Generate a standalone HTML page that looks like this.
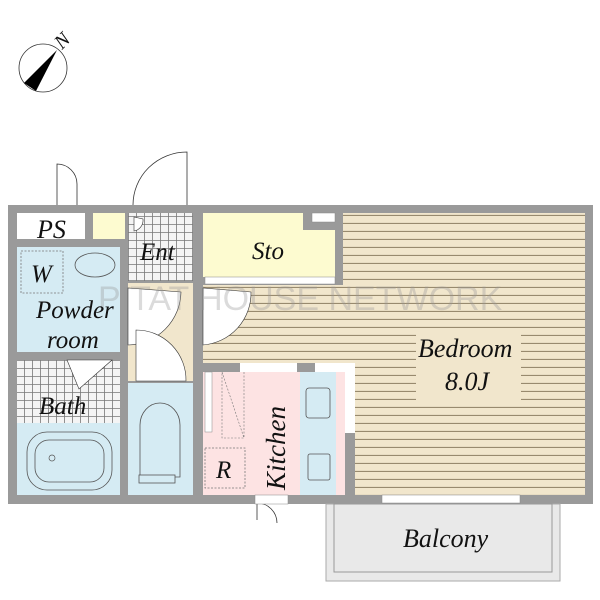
<!DOCTYPE html>
<html><head><meta charset="utf-8"><style>body{margin:0;background:#fff}svg{display:block}text{font-family:"Liberation Serif",serif;font-style:italic;fill:#111}</style></head><body>
<svg width="600" height="600" viewBox="0 0 600 600" xmlns="http://www.w3.org/2000/svg">
<defs>
<pattern id="wood" width="10" height="8" patternUnits="userSpaceOnUse"><rect width="10" height="8" fill="#f1e6cc"/><line x1="0" y1="7.4" x2="10" y2="7.4" stroke="#8f7f63" stroke-width="1"/></pattern>
<pattern id="tile" width="8" height="8" patternUnits="userSpaceOnUse"><rect width="8" height="8" fill="#f4f4f4"/><path d="M0 0.5H8M0.5 0V8" stroke="#777" stroke-width="0.8"/></pattern>
</defs>
<!-- compass -->
<circle cx="43" cy="68" r="24" fill="none" stroke="#333" stroke-width="0.8"/>
<polygon points="57,50 24,83 36,91" fill="#000"/>
<text x="0" y="0" font-size="20" transform="translate(62,50) rotate(-45)">N</text>
<!-- doors outside -->
<path d="M187 205V152A54 53 0 0 0 133 205" fill="none" stroke="#333" stroke-width="0.8"/>
<path d="M57 205V164A20 20 0 0 1 77 184V205" fill="none" stroke="#333" stroke-width="0.8"/>
<path d="M257 503V520M257 503A20 20 0 0 1 277 523" fill="none" stroke="#333" stroke-width="0.8"/>
<!-- outer walls -->
<rect x="8" y="205" width="585" height="299" fill="#9a9a9a"/>
<!-- balcony -->
<rect x="326" y="504" width="234" height="77" fill="#e9e9e9" stroke="#aaa" stroke-width="1"/>
<rect x="334" y="504" width="218" height="68" fill="none" stroke="#999" stroke-width="1"/>
<!-- rooms -->
<rect x="17" y="213" width="68" height="26" fill="#fff"/>
<rect x="93" y="213" width="32" height="26" fill="#fdfbd0"/>
<rect x="128" y="213" width="65" height="68" fill="url(#tile)"/>
<path d="M203 213H303V230H335V277H203Z" fill="#fdfbd0"/>
<rect x="312" y="213" width="23" height="9" fill="#fff" stroke="#888" stroke-width="0.5"/>
<path d="M343 213H585V495H355V372H345V363H203V285H343Z" fill="url(#wood)"/>
<rect x="17" y="247" width="103" height="105" fill="#d5ebf3"/>
<rect x="17" y="360" width="103" height="63" fill="url(#tile)"/>
<rect x="17" y="423" width="103" height="72" fill="#d5ebf3"/>
<rect x="128" y="283" width="65" height="98" fill="#f1e6cc"/>
<rect x="128" y="383" width="65" height="112" fill="#d5ebf3"/>
<rect x="203" y="372" width="97" height="123" fill="#fde3e3"/>
<rect x="300" y="372" width="36" height="123" fill="#d5ebf3"/>
<rect x="336" y="372" width="9" height="123" fill="#fde3e3"/>
<rect x="345" y="363" width="10" height="70" fill="#fff"/>
<rect x="205" y="372" width="7" height="60" fill="#fff" stroke="#888" stroke-width="0.5"/>
<rect x="240" y="363" width="57" height="9" fill="#fff"/>
<rect x="315" y="363" width="30" height="9" fill="#fff"/>
<!-- door swings inside -->
<path d="M128 288V345A54 54 0 0 0 181 292Z" fill="#fff" stroke="#333" stroke-width="0.6"/>
<path d="M136 381V330A50 50 0 0 1 186 381Z" fill="#fff" stroke="#333" stroke-width="0.6"/>
<path d="M203 288V345A52 52 0 0 0 251 292Z" fill="#fff" stroke="#333" stroke-width="0.6"/>
<path d="M67 360L79 389L112 360Z" fill="#fff" stroke="#333" stroke-width="0.6"/>
<path d="M134 217V231A11 11 0 0 0 143 219Z" fill="#fff" stroke="#333" stroke-width="0.6"/>
<!-- windows -->
<rect x="205" y="277" width="130" height="7" fill="#fff" stroke="#888" stroke-width="0.5"/>
<rect x="382" y="495" width="138" height="8" fill="#fff" stroke="#888" stroke-width="0.5"/>
<rect x="255" y="495" width="33" height="9" fill="#fff" stroke="#888" stroke-width="0.5"/>
<!-- fixtures -->
<rect x="21" y="251" width="42" height="42" fill="none" stroke="#777" stroke-dasharray="2 1.5" stroke-width="0.8"/>
<ellipse cx="95" cy="265" rx="20" ry="12" fill="none" stroke="#555" stroke-width="0.8"/>
<rect x="27" y="432" width="85" height="58" rx="20" fill="none" stroke="#555" stroke-width="0.8"/>
<rect x="35" y="440" width="69" height="42" rx="14" fill="none" stroke="#555" stroke-width="0.8"/>
<circle cx="52" cy="458" r="3" fill="none" stroke="#555" stroke-width="0.7"/>
<path d="M140 477V425A20 22 0 0 1 180 425V477Z" fill="none" stroke="#555" stroke-width="0.8"/>
<rect x="139" y="475" width="36" height="8" fill="#d5ebf3" stroke="#555" stroke-width="0.8"/>
<rect x="306" y="388" width="24" height="30" rx="3" fill="none" stroke="#555" stroke-width="0.8"/>
<rect x="308" y="454" width="22" height="26" rx="2" fill="none" stroke="#555" stroke-width="0.8"/>
<rect x="205" y="448" width="40" height="40" fill="none" stroke="#777" stroke-dasharray="2 1.5" stroke-width="0.8"/>
<path d="M222 372L244 438M244 372V438H222V372" fill="none" stroke="#777" stroke-dasharray="2 1.5" stroke-width="0.6"/>
<!-- watermark -->
<text x="98" y="310" font-size="34" style="font-family:'Liberation Sans',sans-serif;font-style:normal;fill:#999;opacity:0.35">PITAT HOUSE NETWORK</text>
<!-- labels -->
<rect x="416" y="332" width="105" height="70" fill="#f1e6cc"/>
<text x="37" y="238" font-size="26">PS</text>
<text x="140" y="260" font-size="25">Ent</text>
<text x="252" y="259" font-size="25">Sto</text>
<text x="31" y="282" font-size="25">W</text>
<text x="36" y="318" font-size="25">Powder</text>
<text x="47" y="348" font-size="25">room</text>
<text x="39" y="414" font-size="25">Bath</text>
<text x="418" y="357" font-size="26">Bedroom</text>
<text x="445" y="390" font-size="26">8.0J</text>
<text x="216" y="478" font-size="25">R</text>
<text x="0" y="0" font-size="27" transform="translate(285,490) rotate(-90)">Kitchen</text>
<text x="403" y="547" font-size="26">Balcony</text>
</svg>
</body></html>
